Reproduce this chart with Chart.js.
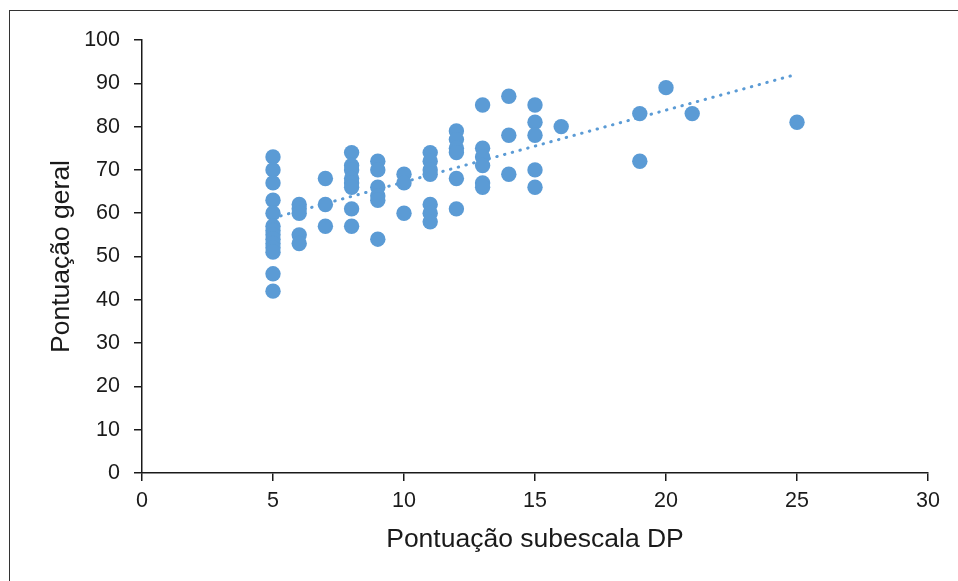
<!DOCTYPE html>
<html>
<head>
<meta charset="utf-8">
<script src="https://cdn.jsdelivr.net/npm/chart.js@4.4.1/dist/chart.umd.min.js"></script>
<style>
  html, body { margin: 0; padding: 0; background: #fff; }
  #wrap { position: relative; width: 958px; height: 581px; overflow: hidden; }
  #frame {
    position: absolute; left: 9px; top: 10px; width: 980px; height: 600px;
    border-left: 1.5px solid #333; border-top: 1.5px solid #333;
    pointer-events: none;
  }
</style>
</head>
<body>
<div id="wrap">
  <canvas id="chart" width="958" height="581"></canvas>
  <div id="frame"></div>
</div>
<script>
// Pontuação subescala DP (x) and Pontuação geral (y), one entry per respondent
const scoreDP = [
  5, 5, 5, 5, 5, 5, 5, 5, 5, 5, 5, 5, 5, 5,
  6, 6, 6, 6, 6,
  7, 7, 7,
  8, 8, 8, 8, 8, 8, 8, 8,
  9, 9, 9, 9, 9, 9,
  10, 10, 10,
  11, 11, 11, 11, 11, 11, 11,
  12, 12, 12, 12, 12, 12,
  13, 13, 13, 13, 13, 13,
  14, 14, 14,
  15, 15, 15, 15, 15,
  16,
  19, 19,
  20,
  21,
  25
];
const scoreGeral = [
  73, 70, 67, 63, 60, 57, 56, 55, 54, 53, 52, 51, 46, 42,
  62, 61, 60, 55, 53,
  68, 62, 57,
  74, 71, 70, 68, 67, 66, 61, 57,
  72, 70, 66, 64, 63, 54,
  69, 67, 60,
  74, 72, 70, 69, 62, 60, 58,
  79, 77, 75, 74, 68, 61,
  85, 75, 73, 71, 67, 66,
  87, 78, 69,
  85, 81, 78, 70, 66,
  80,
  83, 72,
  89,
  83,
  81
];

// linear trend line as drawn in the original (endpoints)
const trendX = [5, 25];
const trendY = [58.9, 92.1];

const xTicks = [0, 5, 10, 15, 20, 25, 30];
const yTicks = [0, 10, 20, 30, 40, 50, 60, 70, 80, 90, 100];

const blue = '#5B9BD5';
const ink = '#1a1a1a';
const fontFamily = '"Liberation Sans", Arial, sans-serif';

const points = scoreDP.map((x, i) => ({ x: x, y: scoreGeral[i] }));
const trend = trendX.map((x, i) => ({ x: x, y: trendY[i] }));

const ctx = document.getElementById('chart').getContext('2d');
new Chart(ctx, {
  type: 'scatter',
  data: {
    datasets: [
      {
        label: 'Pontuação geral',
        data: points,
        backgroundColor: blue,
        borderWidth: 0,
        pointRadius: 7.7,
        pointHoverRadius: 7.7
      },
      {
        type: 'line',
        label: 'Linear',
        data: trend,
        borderColor: blue,
        borderWidth: 3,
        borderDash: [0.5, 7.5],
        borderCapStyle: 'round',
        pointRadius: 0,
        fill: false
      }
    ]
  },
  options: {
    responsive: false,
    animation: false,
    layout: { padding: { top: 40, right: 30, left: 0, bottom: 0 } },
    plugins: {
      legend: { display: false },
      tooltip: { enabled: false }
    },
    scales: {
      x: {
        type: 'linear',
        min: 0,
        max: 30,
        afterBuildTicks: (scale) => { scale.ticks = xTicks.map(v => ({ value: v })); },
        afterFit: (scale) => { scale.height = 108; },
        grid: { drawOnChartArea: false, drawTicks: true, tickLength: 8, color: ink, lineWidth: 1.5 },
        border: { display: true, color: ink, width: 1.5 },
        ticks: { color: ink, padding: 7, font: { family: fontFamily, size: 21.5 } },
        title: {
          display: true,
          text: 'Pontuação subescala DP',
          color: ink,
          padding: { top: 0, bottom: 25 },
          font: { family: fontFamily, size: 26.5 }
        }
      },
      y: {
        type: 'linear',
        min: 0,
        max: 100,
        afterBuildTicks: (scale) => { scale.ticks = yTicks.map(v => ({ value: v })); },
        afterFit: (scale) => { scale.width = 142; },
        grid: { drawOnChartArea: false, drawTicks: true, tickLength: 8, color: ink, lineWidth: 1.5 },
        border: { display: true, color: ink, width: 1.5 },
        ticks: { color: ink, padding: 14, font: { family: fontFamily, size: 21.5 } },
        title: {
          display: true,
          text: 'Pontuação geral',
          color: ink,
          padding: { top: 46, bottom: 0 },
          font: { family: fontFamily, size: 26.5 }
        }
      }
    }
  }
});
</script>
</body>
</html>
